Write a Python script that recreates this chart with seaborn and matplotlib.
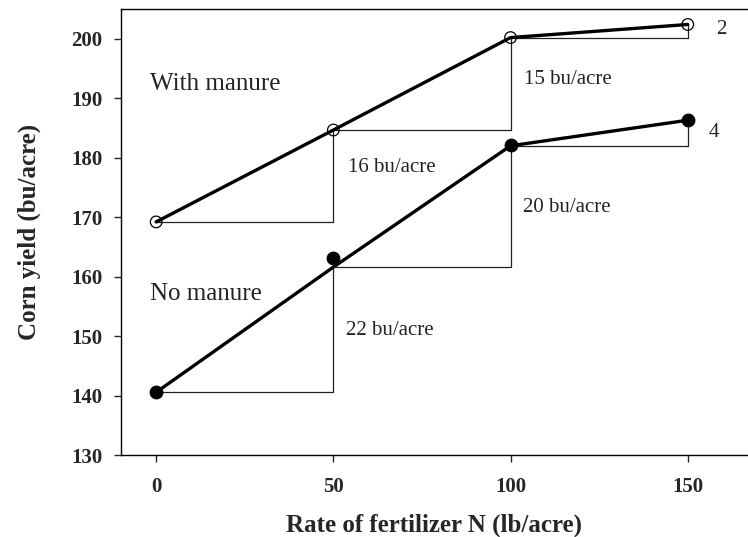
import matplotlib
matplotlib.use("Agg")
import matplotlib.pyplot as plt
import seaborn as sns
import pandas as pd

# fertilizer N rates (lb/acre)
rate = [0, 50, 100, 150]

# measured yields (bu/acre)
with_manure = [169.2, 184.65, 200.2, 202.4]
no_manure = [140.55, 163.2, 182.1, 186.3]

# fitted response lines
with_manure_fit = [169.2, 184.65, 200.2, 202.4]
no_manure_fit = [140.55, 161.6, 182.0, 186.3]

# increments between rates
with_labels = ["16 bu/acre", "15 bu/acre", "2"]
no_labels = ["22 bu/acre", "20 bu/acre", "4"]

sns.set_style("ticks")
plt.rcParams['font.family'] = ['Liberation Serif', 'DejaVu Serif']

fig = plt.figure(figsize=(7.48, 5.37), dpi=100)
ax = fig.add_axes([0.1614, 0.1527, 0.8386, 0.8305])

df = pd.DataFrame({'rate': rate, 'with': with_manure, 'no': no_manure,
                   'with_fit': with_manure_fit, 'no_fit': no_manure_fit})

# step lines showing the yield gain per 50 lb
for fit in [with_manure_fit, no_manure_fit]:
    for i in range(len(rate) - 1):
        ax.plot([rate[i], rate[i + 1], rate[i + 1]], [fit[i], fit[i], fit[i + 1]],
                color='#222222', lw=0.9, zorder=1)

sns.lineplot(x='rate', y='with_fit', data=df, color='black', lw=2.4, ax=ax, zorder=2)
sns.lineplot(x='rate', y='no_fit', data=df, color='black', lw=2.4, ax=ax, zorder=2)
sns.scatterplot(x='rate', y='with', data=df, marker='o', s=70, facecolor='none',
                edgecolor='black', linewidth=0.9, ax=ax, zorder=3)
sns.scatterplot(x='rate', y='no', data=df, marker='o', s=85, color='black',
                edgecolor='black', ax=ax, zorder=3)

# increment labels
with_pos = [(54, 178.4), (103.8, 193.2), (158, 201.6)]
no_pos = [(53.5, 150.9), (103.4, 171.7), (156, 184.2)]
for (x, y), t in zip(with_pos + no_pos, with_labels + no_labels):
    ax.text(x, y, t, fontsize=15, va='center', ha='left', color='#222222')

ax.text(-1.6, 192.4, "With manure", fontsize=18, va='center', ha='left', color='#222222')
ax.text(-1.6, 157.1, "No manure", fontsize=18, va='center', ha='left', color='#222222')

ax.set_xlim(-10, 167)
ax.set_ylim(130, 205)
ax.set_xticks(rate)
ax.set_yticks([130, 140, 150, 160, 170, 180, 190, 200])
ax.tick_params(axis='both', direction='out', length=5, width=1, labelsize=15)
ax.tick_params(axis='x', pad=11)
ax.tick_params(axis='y', pad=8)
for lab in ax.get_xticklabels() + ax.get_yticklabels():
    lab.set_fontweight('bold')

ax.set_xlabel("Rate of fertilizer N (lb/acre)", fontsize=18, fontweight='bold', labelpad=12)
ax.set_ylabel("Corn yield (bu/acre)", fontsize=18, fontweight='bold', labelpad=22)

ax.spines['right'].set_visible(False)
for s in ['left', 'bottom', 'top']:
    ax.spines[s].set_linewidth(1.0)
    ax.spines[s].set_color('black')

fig.savefig("out.png", dpi=100)
